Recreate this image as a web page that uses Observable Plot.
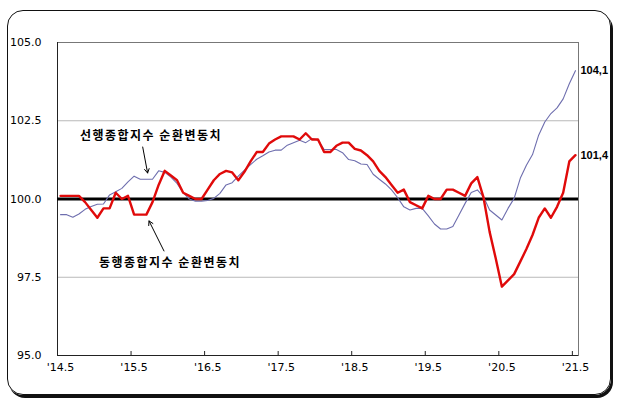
<!DOCTYPE html>
<html>
<head>
<meta charset="utf-8">
<script src="https://cdn.jsdelivr.net/npm/d3@7"></script>
<script src="https://cdn.jsdelivr.net/npm/@observablehq/plot@0.6"></script>
<style>
  html, body { margin: 0; padding: 0; background: #fff; }
  #wrap { position: relative; width: 619px; height: 403px; overflow: hidden; }
  #box { position: absolute; left: 7px; top: 10px; width: 602px; height: 383px;
         border: 1.5px solid #111; border-radius: 16px; box-shadow: 2px 3px 0 #111; }
  #chart { position: absolute; left: 0; top: 0; }
  .ann text { letter-spacing: 1.5px; }
</style>
</head>
<body>
<div id="wrap"><div id="box"></div><div id="chart"></div></div>
<script>
// Monthly series, May 2014 ('14.5) to May 2021 ('21.5)
const leadIndex = [
  99.5, 99.5, 99.42, 99.52, 99.67, 99.76, 99.83, 99.84, 100.13, 100.23,
  100.34, 100.55, 100.73, 100.63, 100.63, 100.63, 100.9, 100.85, 100.7, 100.5,
  100.2, 100.0, 99.93, 99.93, 99.95, 100.02, 100.18, 100.45, 100.52, 100.73,
  100.92, 101.1, 101.27, 101.38, 101.5, 101.56, 101.56, 101.72, 101.8, 101.88,
  101.8, 101.93, 101.88, 101.58, 101.58, 101.58, 101.48, 101.26, 101.22, 101.12,
  101.1, 100.79, 100.63, 100.48, 100.29, 100.04, 99.75, 99.65, 99.7, 99.7,
  99.46, 99.2, 99.04, 99.04, 99.12, 99.49, 99.86, 100.21, 100.29, 100.07,
  99.65, 99.49, 99.33, 99.7, 100.02, 100.66, 101.08, 101.42, 102.04, 102.46,
  102.73, 102.91, 103.2, 103.68, 104.1
];
const coinIndex = [
  100.1, 100.1, 100.1, 100.1, 99.9, 99.65, 99.4, 99.7, 99.7, 100.2,
  100.0, 100.1, 99.5, 99.5, 99.5, 99.9, 100.45, 100.9, 100.75, 100.6,
  100.2, 100.1, 100.0, 100.0, 100.3, 100.6, 100.8, 100.9, 100.85, 100.6,
  100.87, 101.2, 101.5, 101.5, 101.77, 101.9, 102.0, 102.0, 102.0, 101.9,
  102.1, 101.9, 101.9, 101.5, 101.5, 101.7, 101.8, 101.8, 101.6, 101.55,
  101.4, 101.2, 100.9, 100.7, 100.45, 100.2, 100.3, 99.9, 99.8, 99.7,
  100.1, 100.0, 100.0, 100.3, 100.3, 100.2, 100.1, 100.5, 100.7, 100.05,
  98.95, 98.1, 97.2, 97.4, 97.6, 98.0, 98.4, 98.85, 99.4, 99.7,
  99.4, 99.75, 100.2, 101.2, 101.4
];
const xTickLabels = ["'14.5", "'15.5", "'16.5", "'17.5", "'18.5", "'19.5", "'20.5", "'21.5"];
const yTickValues = [95, 97.5, 100, 102.5, 105];
const leadName = "선행종합지수 순환변동치";
const coinName = "동행종합지수 순환변동치";
const endLabels = ["104,1", "101,4"];

const n = leadIndex.length;
const rows = d3.range(n).map(i => ({m: i + 0.5, lead: leadIndex[i], coin: coinIndex[i]}));
const tickPos = xTickLabels.map((d, i) => i * 12);
const labelPos = tickPos.map(d => d + 0.5);
const endRows = [
  {m: n, v: leadIndex[n - 1], t: endLabels[0]},
  {m: n, v: coinIndex[n - 1], t: endLabels[1]}
];

const chart = Plot.plot({
  width: 619,
  height: 403,
  marginLeft: 57,
  marginRight: 41,
  marginTop: 42,
  marginBottom: 48,
  style: {background: "transparent", fontFamily: "'DejaVu Sans', sans-serif", fontSize: "11px", color: "#000", overflow: "visible"},
  x: {domain: [0, 85]},
  y: {domain: [95, 105]},
  marks: [
    Plot.ruleY([97.5, 102.5], {stroke: "#b9b9b9", strokeWidth: 1}),
    Plot.frame({stroke: "#777"}),
    Plot.ruleX([0], {stroke: "#222"}),
    Plot.ruleY([95], {stroke: "#222"}),
    Plot.ruleX(tickPos, {y1: 95, y2: 95 + 4 / 31.3, stroke: "#222"}),
    Plot.ruleY([100], {stroke: "#000", strokeWidth: 3}),
    Plot.line(rows, {x: "m", y: "lead", stroke: "#6e6eae", strokeWidth: 1.1}),
    Plot.line(rows, {x: "m", y: "coin", stroke: "#e00a0a", strokeWidth: 2.4}),
    Plot.axisY(yTickValues, {tickSize: 0, tickPadding: 16, tickFormat: d3.format(".1f"), fontSize: 11}),
    Plot.axisX(labelPos, {tickSize: 0, tickPadding: 8, fontSize: 11,
      tickFormat: d => xTickLabels[Math.round((d - 0.5) / 12)]}),
    Plot.text(endRows, {x: "m", y: "v", text: "t", textAnchor: "start", dx: 2, fontWeight: "bold", fontSize: 11,
      fontFamily: "'Liberation Sans', Arial, sans-serif"}),
    Plot.text([leadName], {x: 15.25, y: 102.0, text: d => d, fontWeight: "bold", fontSize: 12,
      fontFamily: "'Noto Sans CJK KR', sans-serif", className: "ann"}),
    Plot.text([coinName], {x: 18.35, y: 97.96, text: d => d, fontWeight: "bold", fontSize: 12,
      fontFamily: "'Noto Sans CJK KR', sans-serif", className: "ann"}),
    Plot.arrow([{x1: 13.9, y1: 101.66, x2: 14.7, y2: 100.83}, {x1: 17.37, y1: 98.34, x2: 14.93, y2: 99.3}],
      {x1: "x1", y1: "y1", x2: "x2", y2: "y2", stroke: "#000", strokeWidth: 1, headLength: 7})
  ]
});
document.getElementById("chart").appendChild(chart);
</script>
</body>
</html>
